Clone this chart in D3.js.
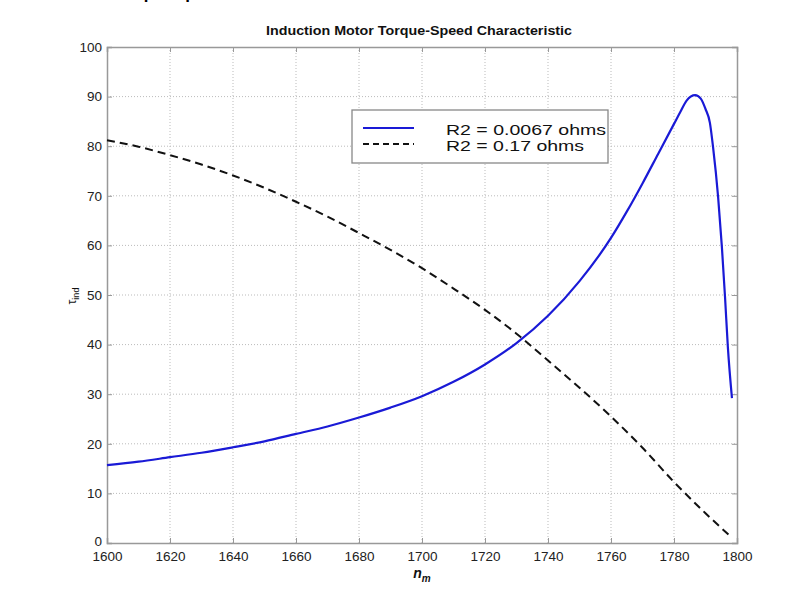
<!DOCTYPE html>
<html>
<head>
<meta charset="utf-8">
<script src="https://cdn.jsdelivr.net/npm/d3@7"></script>
<style>
  body { margin: 0; background: #fff; }
  svg { font-family: "Liberation Sans", Arial, sans-serif; }
</style>
</head>
<body>
<svg id="canvas"></svg>
<script>
"use strict";

// R2 = 0.0067 ohms (solid blue)
const speedA = [1600, 1610, 1620, 1630, 1640, 1650, 1660, 1670, 1680, 1690, 1700, 1710, 1720, 1730, 1740, 1750, 1760, 1765, 1770, 1775, 1780, 1782, 1784, 1786.7, 1788.5, 1790, 1791.4, 1792.4, 1794, 1795.2, 1796.2, 1797.1, 1798.4];
const torqueA = [15.7, 16.4, 17.3, 18.2, 19.3, 20.5, 22.0, 23.5, 25.3, 27.3, 29.6, 32.5, 36.0, 40.3, 45.8, 52.8, 61.5, 66.8, 72.5, 78.5, 84.5, 86.9, 89.2, 90.3, 89.6, 87.5, 84.7, 79.8, 69.8, 59.7, 49.6, 39.5, 29.2];

// R2 = 0.17 ohms (dashed black)
const speedB = [1600, 1610, 1620, 1630, 1640, 1650, 1660, 1670, 1680, 1690, 1700, 1710, 1720, 1730, 1740, 1750, 1760, 1770, 1780, 1790, 1798];
const torqueB = [81.2, 79.9, 78.2, 76.3, 74.1, 71.6, 68.8, 65.8, 62.5, 59.1, 55.4, 51.3, 47.0, 42.2, 36.8, 31.3, 25.5, 19.2, 12.3, 6.0, 1.3];

const xTicks = [1600, 1620, 1640, 1660, 1680, 1700, 1720, 1740, 1760, 1780, 1800];
const yTicks = [0, 10, 20, 30, 40, 50, 60, 70, 80, 90, 100];
const legendLabels = ["R2 = 0.0067 ohms", "R2 = 0.17 ohms"];

let width = 799;
let height = 605;
let padL = 107, padR = 737, padT = 47, padB = 543;

let canvas = d3.select('#canvas')
  .attr('width', width)
  .attr('height', height);

let xScale = d3.scaleLinear().domain([1600, 1800]).range([padL, padR]);
let yScale = d3.scaleLinear().domain([0, 100]).range([padB, padT]);

// cropped heading from the page above
canvas.append('text')
  .attr('x', 112).attr('y', -1)
  .attr('font-size', 17).attr('font-weight', 'bold')
  .text('Torque-Speed');

// grid
canvas.append('g')
  .selectAll('line')
  .data(xTicks.slice(1, -1))
  .enter().append('line')
  .attr('x1', d => xScale(d)).attr('x2', d => xScale(d))
  .attr('y1', padT).attr('y2', padB)
  .attr('stroke', '#bbb').attr('stroke-width', 1)
  .attr('stroke-dasharray', '1,2');
canvas.append('g')
  .selectAll('line')
  .data(yTicks.slice(1, -1))
  .enter().append('line')
  .attr('x1', padL).attr('x2', padR)
  .attr('y1', d => yScale(d)).attr('y2', d => yScale(d))
  .attr('stroke', '#bbb').attr('stroke-width', 1)
  .attr('stroke-dasharray', '1,2');

// axes (ticks inward, MATLAB style)
let xAxis = d3.axisBottom(xScale).tickValues(xTicks).tickSize(-5).tickPadding(8).tickFormat(d3.format('d'));
let yAxis = d3.axisLeft(yScale).tickValues(yTicks).tickSize(-5).tickPadding(5);
let xTop = d3.axisTop(xScale).tickValues(xTicks).tickSize(-5).tickFormat('');
let yRight = d3.axisRight(yScale).tickValues(yTicks).tickSize(-5).tickFormat('');

const styleAxis = g => {
  g.select('.domain').attr('stroke', '#999').attr('stroke-width', 1.5);
  g.selectAll('.tick line').attr('stroke', '#999');
  g.selectAll('.tick text').attr('fill', '#222').attr('font-size', 13.5)
    .attr('font-family', '"Liberation Sans", Arial, sans-serif');
};

canvas.append('g').attr('transform', 'translate(0,' + padB + ')').call(xAxis).call(styleAxis);
canvas.append('g').attr('transform', 'translate(' + padL + ',0)').call(yAxis).call(styleAxis)
  .selectAll('.tick text').attr('dy', d => d === 0 ? '0.2em' : '0.32em');
canvas.append('g').attr('transform', 'translate(0,' + padT + ')').call(xTop).call(styleAxis);
canvas.append('g').attr('transform', 'translate(' + padR + ',0)').call(yRight).call(styleAxis);

// curves
const line = d3.line()
  .x(d => xScale(d[0]))
  .y(d => yScale(d[1]))
  .curve(d3.curveMonotoneX);

canvas.append('path')
  .datum(speedB.map((s, i) => [s, torqueB[i]]))
  .attr('d', line)
  .attr('fill', 'none').attr('stroke', '#111').attr('stroke-width', 2)
  .attr('stroke-dasharray', '8,5');

canvas.append('path')
  .datum(speedA.map((s, i) => [s, torqueA[i]]))
  .attr('d', line)
  .attr('fill', 'none').attr('stroke', '#1a1ad6').attr('stroke-width', 2.2);

// title
canvas.append('text')
  .attr('x', (padL + padR) / 2 - 3).attr('y', 35)
  .attr('text-anchor', 'middle')
  .attr('font-size', 12.5).attr('font-weight', 'bold').attr('fill', '#111')
  .attr('textLength', 306).attr('lengthAdjust', 'spacingAndGlyphs')
  .text('Induction Motor Torque-Speed Characteristic');

// axis labels
canvas.append('text')
  .attr('x', (padL + padR) / 2).attr('y', 578)
  .attr('text-anchor', 'middle')
  .attr('font-size', 14).attr('font-weight', 'bold').attr('font-style', 'italic').attr('fill', '#111')
  .html('n<tspan font-size="10" dy="4">m</tspan>');

canvas.append('text')
  .attr('transform', 'translate(76,296) rotate(-90)')
  .attr('text-anchor', 'middle')
  .attr('font-size', 12).attr('fill', '#111')
  .html('τ<tspan font-size="9" dy="3">ind</tspan>');

// legend
let legend = canvas.append('g');
legend.append('rect')
  .attr('x', 352).attr('y', 110).attr('width', 256).attr('height', 53)
  .attr('fill', '#fff').attr('stroke', '#888').attr('stroke-width', 1.3);

const legendStyles = [
  { color: '#1a1ad6', dash: null },
  { color: '#111', dash: '6,4' }
];
legendLabels.forEach((lab, i) => {
  let y = 128 + i * 16;
  legend.append('line')
    .attr('x1', 363).attr('x2', 414).attr('y1', y).attr('y2', y)
    .attr('stroke', legendStyles[i].color).attr('stroke-width', 2)
    .attr('stroke-dasharray', legendStyles[i].dash);
  legend.append('text')
    .attr('x', 446).attr('y', y + 7)
    .attr('font-size', 15).attr('fill', '#111')
    .attr('textLength', i === 0 ? 160 : 138).attr('lengthAdjust', 'spacingAndGlyphs')
    .text(lab);
});
</script>
</body>
</html>
